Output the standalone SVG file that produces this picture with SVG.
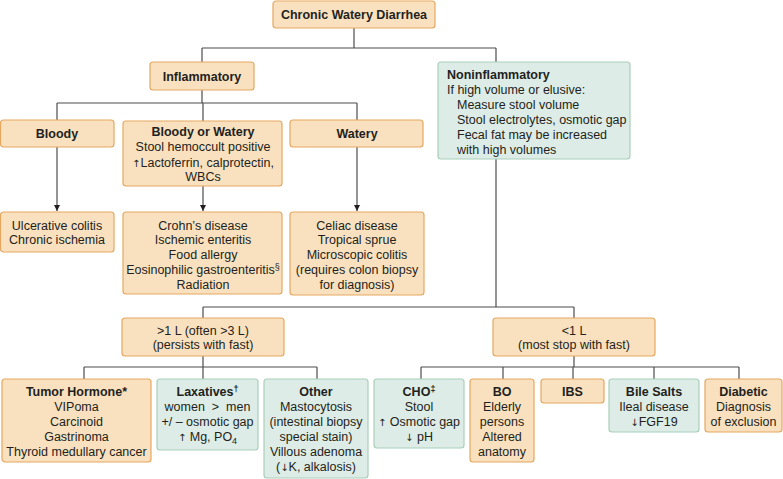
<svg xmlns="http://www.w3.org/2000/svg" width="783" height="479" viewBox="0 0 783 479">
<defs>
<style>
.o{fill:#f9e1bf;stroke:#e6a860;stroke-width:1.2}
.g{fill:#ddece6;stroke:#a9cfba;stroke-width:1.2}
text{font-family:"Liberation Sans",Arial,sans-serif;font-size:12.5px;fill:#231f20}
.c{text-anchor:middle}
.b{font-weight:bold}
.ar{font-size:10px;font-family:"DejaVu Sans",sans-serif}
.sup{font-size:9px}
.ln{fill:none;stroke:#4d4d4d;stroke-width:1.2}
</style>
<marker id="ah" viewBox="0 0 8 8" refX="8" refY="4" markerWidth="6" markerHeight="6" orient="auto" markerUnits="userSpaceOnUse">
<path d="M0 0L8 4L0 8z" fill="#231f20"/>
</marker>
</defs>
<g id="connectors">
<path class="ln" d="M354 28V48M202 48H496M202 48V62M496 48V62"/>
<path class="ln" d="M202 90V103M57 103H357M57 103V120M203 103V121M357 103V120"/>
<path class="ln" d="M57 147V211" marker-end="url(#ah)"/>
<path class="ln" d="M203 186V211" marker-end="url(#ah)"/>
<path class="ln" d="M357 147V211" marker-end="url(#ah)"/>
<path class="ln" d="M496 159V307M203 307H574M203 307V318M574 307V318"/>
<path class="ln" d="M203 356V367M84 367H317M84 367V379M203 367V379M317 367V379"/>
<path class="ln" d="M574 356V367M421 367H739M421 367V379M503 367V379M573 367V379M654 367V379M739 367V379"/>
</g>
<g id="n-root"><rect class="o" x="273" y="1" width="162" height="27" rx="3"/><text class="c b" x="354" y="18.5">Chronic Watery Diarrhea</text></g>
<g id="n-inflammatory"><rect class="o" x="150" y="62" width="104" height="28" rx="3"/><text class="c b" x="202" y="80.5">Inflammatory</text></g>
<g id="n-noninflammatory"><rect class="g" x="438" y="62" width="192" height="97" rx="3"/>
<text class="b" x="447" y="78.5">Noninflammatory</text>
<text x="447" y="93.5">If high volume or elusive:</text>
<text x="457" y="108.5">Measure stool volume</text>
<text x="457" y="123.5">Stool electrolytes, osmotic gap</text>
<text x="457" y="138.5">Fecal fat may be increased</text>
<text x="457" y="153.5">with high volumes</text></g>
<g id="n-bloody"><rect class="o" x="0.5" y="120" width="113.5" height="27" rx="3"/><text class="c b" x="57" y="137.5">Bloody</text></g>
<g id="n-bloodywatery"><rect class="o" x="123" y="121" width="159" height="65" rx="3"/>
<text class="c b" x="203" y="135.5">Bloody or Watery</text>
<text class="c" x="203" y="150.5">Stool hemoccult positive</text>
<text class="c" x="203" y="166.5"><tspan class="ar">↑</tspan>Lactoferrin, calprotectin,</text>
<text class="c" x="203" y="180.5">WBCs</text></g>
<g id="n-watery"><rect class="o" x="290" y="120" width="133" height="27" rx="3"/><text class="c b" x="357" y="137.5">Watery</text></g>
<g id="n-uc"><rect class="o" x="0.5" y="212" width="113.5" height="40" rx="3"/>
<text class="c" x="57" y="229.5">Ulcerative colitis</text>
<text class="c" x="57" y="243.5">Chronic ischemia</text></g>
<g id="n-crohn"><rect class="o" x="123" y="212" width="159" height="82" rx="3"/>
<text class="c" x="203" y="229.5">Crohn’s disease</text>
<text class="c" x="203" y="244">Ischemic enteritis</text>
<text class="c" x="203" y="258.5">Food allergy</text>
<text class="c" x="203" y="273.5">Eosinophilic gastroenteritis<tspan class="sup" dy="-4">§</tspan></text>
<text class="c" x="203" y="288.5">Radiation</text></g>
<g id="n-celiac"><rect class="o" x="290" y="212" width="134" height="83" rx="3"/>
<text class="c" x="357" y="229.5">Celiac disease</text>
<text class="c" x="357" y="244">Tropical sprue</text>
<text class="c" x="357" y="258.5">Microscopic colitis</text>
<text class="c" x="357" y="273.5">(requires colon biopsy</text>
<text class="c" x="357" y="288.5">for diagnosis)</text></g>
<g id="n-gt1"><rect class="o" x="122" y="318" width="162" height="38" rx="3"/>
<text class="c" x="203" y="334.5">&gt;1 L (often &gt;3 L)</text>
<text class="c" x="203" y="348.5">(persists with fast)</text></g>
<g id="n-lt1"><rect class="o" x="493" y="318" width="162" height="38" rx="3"/>
<text class="c" x="574" y="334.5">&lt;1 L</text>
<text class="c" x="574" y="348.5">(most stop with fast)</text></g>
<g id="n-tumor"><rect class="o" x="2" y="379" width="149" height="83" rx="3"/>
<text class="c b" x="76.5" y="395.5">Tumor Hormone*</text>
<text class="c" x="76.5" y="410.5">VIPoma</text>
<text class="c" x="76.5" y="425.5">Carcinoid</text>
<text class="c" x="76.5" y="440.5">Gastrinoma</text>
<text class="c" x="76.5" y="455.5">Thyroid medullary cancer</text></g>
<g id="n-laxatives"><rect class="g" x="157" y="379" width="101" height="71" rx="3"/>
<text class="c b" x="207.5" y="395.5">Laxatives<tspan class="sup" dy="-4">†</tspan></text>
<text class="c" x="207.5" y="410.5" xml:space="preserve">women  &gt;  men</text>
<text class="c" x="207.5" y="425.5">+/ – osmotic gap</text>
<text class="c" x="207.5" y="440.5"><tspan class="ar">↑</tspan> Mg, PO<tspan class="sup" dy="3">4</tspan></text></g>
<g id="n-other"><rect class="g" x="264" y="379" width="104" height="99" rx="3"/>
<text class="c b" x="316" y="395.5">Other</text>
<text class="c" x="316" y="410.5">Mastocytosis</text>
<text class="c" x="316" y="425.5">(intestinal biopsy</text>
<text class="c" x="316" y="440.5">special stain)</text>
<text class="c" x="316" y="455.5">Villous adenoma</text>
<text class="c" x="316" y="470.5">(<tspan class="ar">↓</tspan>K, alkalosis)</text></g>
<g id="n-cho"><rect class="g" x="374" y="379" width="90" height="69" rx="3"/>
<text class="c b" x="419" y="395.5">CHO<tspan class="sup" dy="-4">‡</tspan></text>
<text class="c" x="419" y="410.5">Stool</text>
<text class="c" x="419" y="425.5"><tspan class="ar">↑</tspan> Osmotic gap</text>
<text class="c" x="419" y="440.5"><tspan class="ar">↓</tspan> pH</text></g>
<g id="n-bo"><rect class="o" x="470" y="379" width="64" height="83" rx="3"/>
<text class="c b" x="502" y="395.5">BO</text>
<text class="c" x="502" y="410.5">Elderly</text>
<text class="c" x="502" y="425.5">persons</text>
<text class="c" x="502" y="440.5">Altered</text>
<text class="c" x="502" y="455.5">anatomy</text></g>
<g id="n-ibs"><rect class="o" x="541" y="379" width="63" height="24" rx="3"/>
<text class="c b" x="572.5" y="395.5">IBS</text></g>
<g id="n-bile"><rect class="g" x="609" y="379" width="90" height="53" rx="3"/>
<text class="c b" x="654" y="395.5">Bile Salts</text>
<text class="c" x="654" y="410.5">Ileal disease</text>
<text class="c" x="654" y="425.5"><tspan class="ar">↓</tspan>FGF19</text></g>
<g id="n-diabetic"><rect class="o" x="705" y="379" width="77" height="53" rx="3"/>
<text class="c b" x="743.5" y="395.5">Diabetic</text>
<text class="c" x="743.5" y="410.5">Diagnosis</text>
<text class="c" x="743.5" y="425.5">of exclusion</text></g>
</svg>
